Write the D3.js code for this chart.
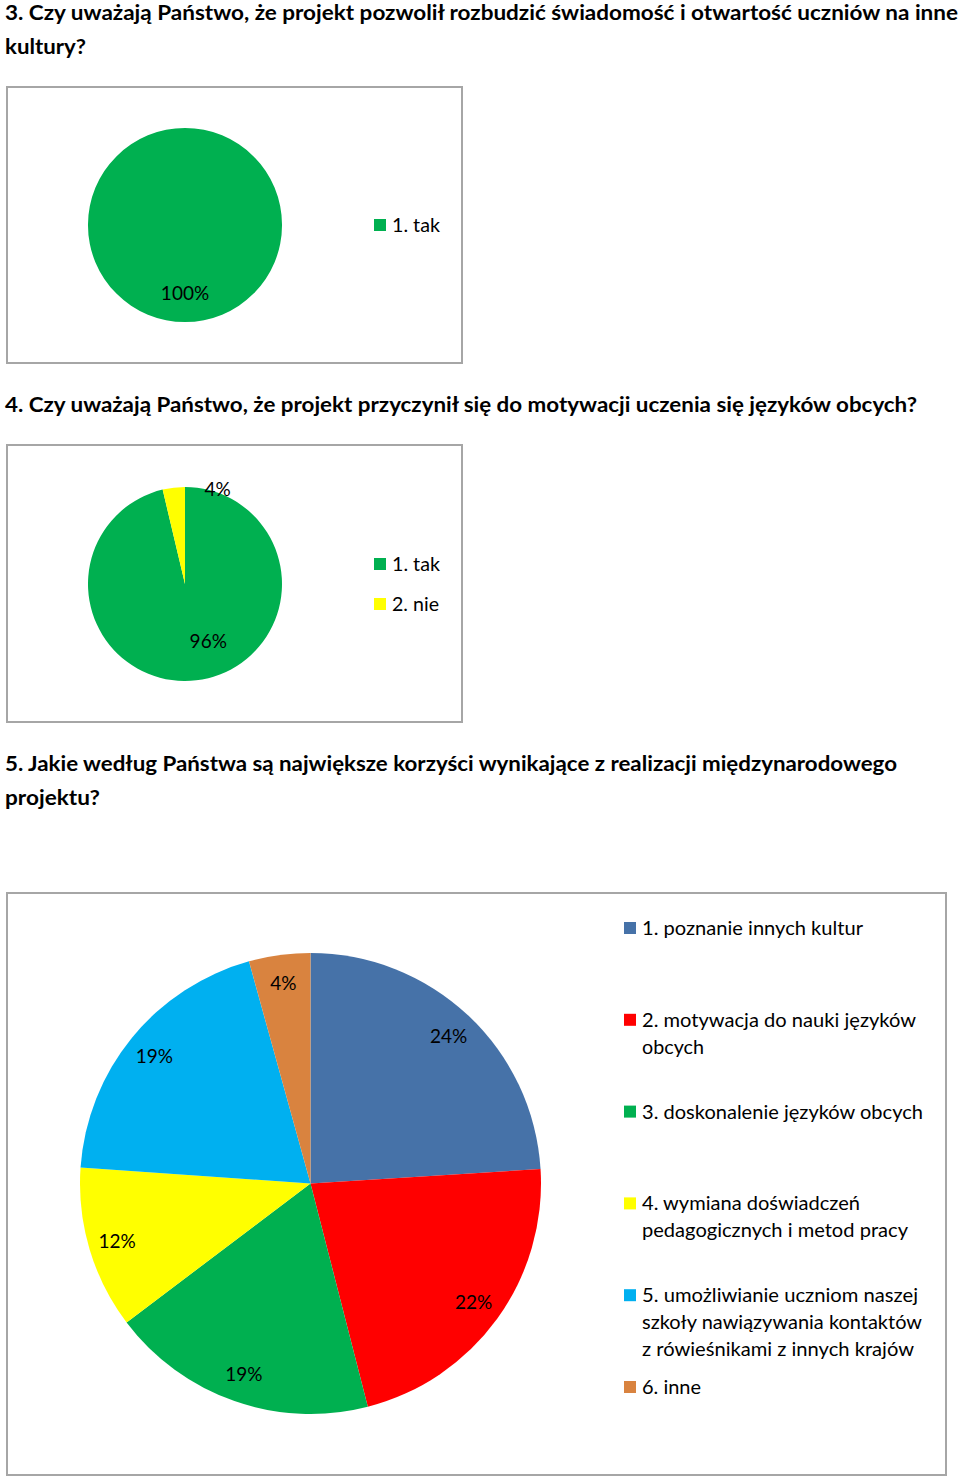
<!DOCTYPE html>
<html><head><meta charset="utf-8">
<script src="https://cdn.jsdelivr.net/npm/d3@7"></script>
<style>
html,body{margin:0;padding:0;background:#fff;}
svg{display:block;}
text{font-family:"Lato","Open Sans","Liberation Sans",sans-serif;fill:#000;}
</style></head><body>
<svg id="c" width="960" height="1478"></svg>
<script>
// ---------- DATA ----------
const q3Categories = ["1. tak"];
const q3Values = [100];
const q3Labels = ["100%"];

const q4Categories = ["1. tak", "2. nie"];
const q4Values = [96.3, 3.7];
const q4Labels = ["96%", "4%"];

const q5Categories = [
  "1. poznanie innych kultur",
  "2. motywacja do nauki języków obcych",
  "3. doskonalenie języków obcych",
  "4. wymiana doświadczeń pedagogicznych i metod pracy",
  "5. umożliwianie uczniom naszej szkoły nawiązywania kontaktów z rówieśnikami z innych krajów",
  "6. inne"
];
const q5LegendLines = [
  ["1. poznanie innych kultur"],
  ["2. motywacja do nauki języków", "obcych"],
  ["3. doskonalenie języków obcych"],
  ["4. wymiana doświadczeń", "pedagogicznych i metod pracy"],
  ["5. umożliwianie uczniom naszej", "szkoły nawiązywania kontaktów", "z rówieśnikami z innych krajów"],
  ["6. inne"]
];
// slice sizes
const q5Values = [24.0, 22.0, 18.7, 11.4, 19.6, 4.3];
const q5Labels = ["24%", "22%", "19%", "12%", "19%", "4%"];

const headings = [
  ["3.  Czy uważają Państwo, że projekt pozwolił rozbudzić świadomość  i otwartość uczniów na inne", "kultury?"],
  ["4.  Czy uważają Państwo, że projekt przyczynił się do motywacji uczenia się języków obcych?"],
  ["5. Jakie według Państwa są największe korzyści wynikające z realizacji międzynarodowego", "projektu?"]
];

// ---------- STYLE / LAYOUT ----------
const C = {
  green:"#00b050", yellow:"#ffff00", steel:"#4672a8", red:"#ff0000", sky:"#00b0f0", orange:"#d9833f"
};
const headingLayout = [
  {x:5, ys:[20,54], widths:[953,81]},
  {x:5, ys:[412], widths:[912]},
  {x:5, ys:[771,805], widths:[892,95]}
];
const charts = [
  {cats:q3Categories, vals:q3Values, labels:q3Labels, colors:[C.green],
   box:[7,87,455,276], cx:185, cy:225, r:97,
   labelPolar:[[0.70,180]],
   legend:{x:374, ys:[225], lines:[["1. tak"]], widths:[[48]]}},
  {cats:q4Categories, vals:q4Values, labels:q4Labels, colors:[C.green,C.yellow],
   box:[7,445,455,277], cx:185, cy:584, r:97,
   labelPolar:[[0.64,158],[1.03,19]],
   legend:{x:374, ys:[564,604], lines:[["1. tak"],["2. nie"]], widths:[[48],[47]]}},
  {cats:q5Categories, vals:q5Values, labels:q5Labels, colors:[C.steel,C.red,C.green,C.yellow,C.sky,C.orange],
   box:[7,893,939,582], cx:310.5, cy:1183.5, r:230.5,
   labelPolar:null, labelFrac:0.875,
   legend:{x:624, ys:null, lines:q5LegendLines,
     widths:[[221],[274,62],[281],[218,266],[276,280,272],[59]]}}
];

const svg = d3.select("#c");
svg.append("rect").attr("width",960).attr("height",1478).attr("fill","#fff");

// headings
headings.forEach((lines,i)=>{
  const L = headingLayout[i];
  lines.forEach((t,j)=>{
    svg.append("text").attr("x",L.x).attr("y",L.ys[j])
      .attr("font-size",20).attr("font-weight","bold")
      .attr("textLength",L.widths[j]).attr("lengthAdjust","spacingAndGlyphs")
      .text(t);
  });
});

const rad = d=>d*Math.PI/180;

charts.forEach((ch,ci)=>{
  const [bx,by,bw,bh] = ch.box;
  svg.append("rect").attr("x",bx).attr("y",by).attr("width",bw).attr("height",bh)
    .attr("fill","#fff").attr("stroke","#a6a6a6").attr("stroke-width",2);

  const g = svg.append("g").attr("transform",`translate(${ch.cx},${ch.cy})`);
  const color = d3.scaleOrdinal().domain(ch.cats).range(ch.colors);
  const pie = d3.pie().sort(null).value(d=>d.v);
  const data = pie(ch.cats.map((c,i)=>({c, v:ch.vals[i], l:ch.labels[i]})));
  const arc = d3.arc().innerRadius(0).outerRadius(ch.r);
  g.selectAll("path").data(data).join("path")
    .attr("d",arc).attr("fill",d=>color(d.data.c));

  g.selectAll("text.lbl").data(data).join("text").attr("class","lbl")
    .attr("transform",(d,i)=>{
      let fr, ang;
      if (ch.labelPolar){ fr=ch.labelPolar[i][0]; ang=rad(ch.labelPolar[i][1]); }
      else { fr=ch.labelFrac; ang=(d.startAngle+d.endAngle)/2; }
      const rr = fr*ch.r;
      return `translate(${rr*Math.sin(ang)},${-rr*Math.cos(ang)})`;
    })
    .attr("text-anchor","middle").attr("dy","0.36em")
    .attr("font-size",19).attr("fill","#1a1a1a")
    .text(d=>d.data.l);

  // legend
  const lg = ch.legend;
  let ys = lg.ys;
  if (!ys){
    const ys0 = d3.scaleLinear().domain([0,ch.cats.length-1]).range([928,1387]);
    ys = ch.cats.map((c,i)=>ys0(i));
  }
  ch.cats.forEach((c,i)=>{
    svg.append("rect").attr("x",lg.x).attr("y",ys[i]-6).attr("width",12).attr("height",12)
      .attr("fill",color(c));
    lg.lines[i].forEach((t,j)=>{
      svg.append("text").attr("x",lg.x+18).attr("y",ys[i]+7+j*27)
        .attr("font-size",19)
        .attr("textLength",lg.widths[i][j]).attr("lengthAdjust","spacingAndGlyphs")
        .text(t);
    });
  });
});
</script>
</body></html>
